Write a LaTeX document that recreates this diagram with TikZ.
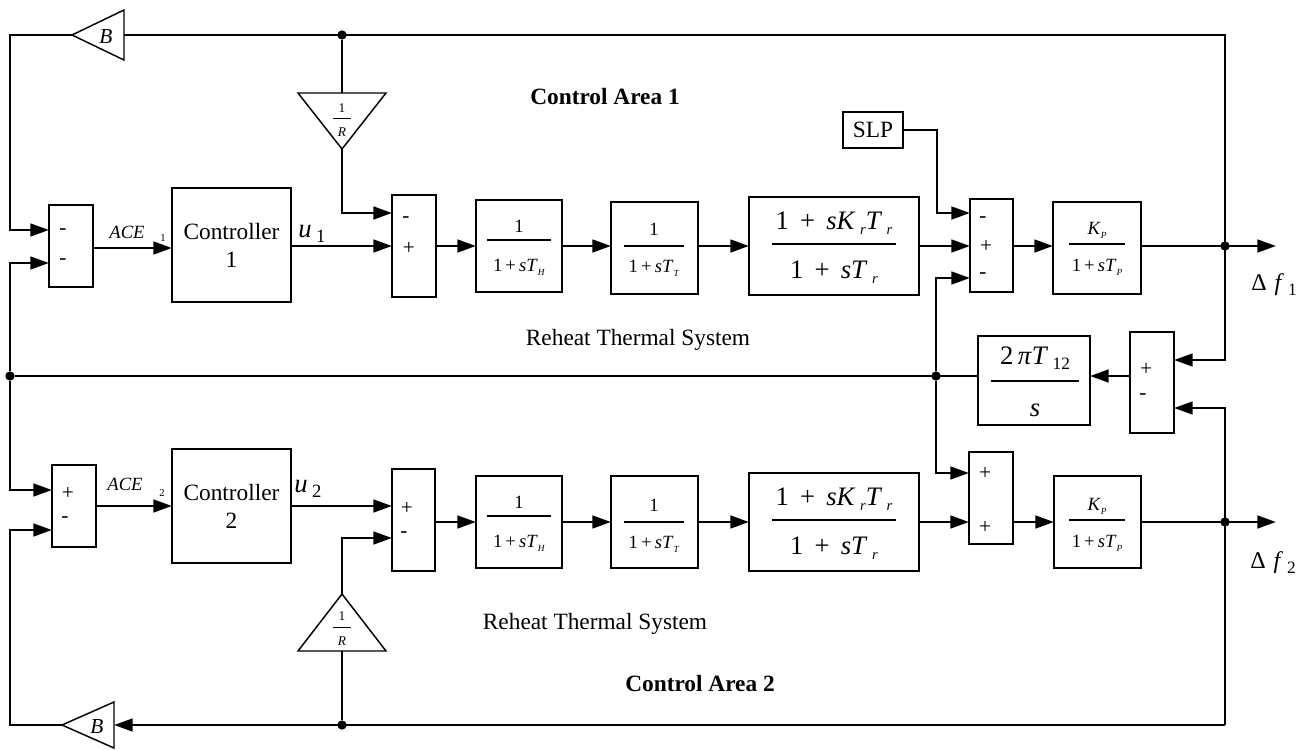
\documentclass[tikz,border=0pt]{standalone}
\usepackage{fontspec}
\setmainfont{Liberation Serif}
\usetikzlibrary{arrows.meta,fit,calc}
\newcommand\fs[1]{\fontsize{#1}{#1}\selectfont}
\newcommand\lowr[2]{\raisebox{-0.45ex}{\fs{#1}#2}}
\newcommand\fracat[8]{%
  \draw[line width=0.8pt] (#2-#4,#3) -- (#2+#4,#3);
  \node[lbl] (#1n) at (#2,#5) {#7};
  \node[lbl] (#1d) at (#2,#6) {#8};}
\begin{document}
\begin{tikzpicture}[x=0.75pt,y=-0.75pt,
  conn/.style={line width=2pt},
  arr/.style={conn,-{Triangle[length=14pt,width=9.5pt]}},
  blk/.style={draw,line width=0.9pt,inner sep=0pt,outer sep=0pt},
  sumb/.style={draw,line width=1.4pt,inner sep=0pt,outer sep=0pt},
  tri/.style={draw,line width=1.1pt,line join=miter},
  dot/.style={circle,fill,inner sep=0pt,minimum size=7pt},
  lbl/.style={inner sep=0pt},
  sgn/.style={inner sep=0pt,font=\fs{16}},
  txt/.style={inner sep=0pt,font=\fontsize{17.5}{21}\selectfont,align=center},
]
\useasboundingbox (0,0) rectangle (1308,749);

% ---------- blocks ----------
\node[blk,fit={(172,188) (291,302)}] (ctl1) {};
\node[blk,fit={(172,449) (291,563)}] (ctl2) {};
\node[blk,fit={(476,200) (562,292)}] (th1) {};
\node[blk,fit={(611,202) (698,294)}] (tt1) {};
\node[blk,fit={(749,197) (919,295)}] (r1) {};
\node[blk,fit={(1053,202) (1141,294)}] (kp1) {};
\node[blk,fit={(843,112) (903,148)}] (slp) {};
\node[blk,fit={(978,336) (1090,425)}] (t12) {};
\node[blk,fit={(476,476) (562,568)}] (th2) {};
\node[blk,fit={(611,476) (698,568)}] (tt2) {};
\node[blk,fit={(749,473) (919,571)}] (r2) {};
\node[blk,fit={(1054,476) (1141,568)}] (kp2) {};

% ---------- summing boxes ----------
\node[sumb,fit={(49,205) (93,287)}] (s1) {};
\node[sumb,fit={(392,195) (436,297)}] (s2) {};
\node[sumb,fit={(970,199) (1013,292)}] (s3) {};
\node[sumb,fit={(1130,332) (1174,433)}] (s4) {};
\node[sumb,fit={(969,452) (1013,544)}] (s5) {};
\node[sumb,fit={(52,465) (96,547)}] (s6) {};
\node[sumb,fit={(392,469) (435,571)}] (s7) {};

% signs
\node[sgn] (s1a) at (63,232) {-};
\node[sgn] (s1b) at (63,262) {-};
\node[sgn] (s2a) at (406,220) {-};
\node[sgn] (s2b) at (409,248) {+};
\node[sgn] (s3a) at (983,220) {-};
\node[sgn] (s3b) at (986,246) {+};
\node[sgn] (s3c) at (983,276) {-};
\node[sgn] (s4a) at (1146,369) {+};
\node[sgn] (s4b) at (1143,397) {-};
\node[sgn] (s5a) at (985,473) {+};
\node[sgn] (s5b) at (985,527) {+};
\node[sgn] (s6a) at (68,493) {+};
\node[sgn] (s6b) at (65,520) {-};
\node[sgn] (s7a) at (407,508) {+};
\node[sgn] (s7b) at (404,535) {-};

% ---------- triangles ----------
\draw[tri] (124,10) -- (124,60) -- (72,35) -- cycle;
\coordinate (b1in) at (124,35); \coordinate (b1out) at (72,35);
\node[lbl,font=\fs{16}\itshape] (b1t) at (106,37) {B};
\draw[tri] (114,702) -- (114,748) -- (62,725) -- cycle;
\coordinate (b2in) at (114,725); \coordinate (b2out) at (62,725);
\node[lbl,font=\fs{16}\itshape] (b2t) at (97,727) {B};

\draw[tri] (298,93) -- (386,93) -- (342,149) -- cycle;
\coordinate (r1top) at (342,93); \coordinate (r1apex) at (342,149);
\draw[line width=0.6pt] (333,118) -- (351,118);
\node[lbl,font=\fs{10}] (r1n) at (342,108) {1};
\node[lbl,font=\fs{10}\itshape] (r1d) at (342,132) {R};

\draw[tri] (298,651) -- (386,651) -- (342,594) -- cycle;
\coordinate (r2base) at (342,651); \coordinate (r2apex) at (342,594);
\draw[line width=0.6pt] (333,627) -- (351,627);
\node[lbl,font=\fs{10}] (r2n) at (342,616) {1};
\node[lbl,font=\fs{10}\itshape] (r2d) at (342,641) {R};

% ---------- junctions ----------
\coordinate (tl) at (10,35);
\coordinate (tr) at (1225,35);
\coordinate (bl) at (10,725);
\coordinate (br) at (1225,725);
\coordinate (slpc) at (937,213);
\coordinate (f1end) at (1276,246);
\coordinate (f2end) at (1276,522);
\node[dot] (jt) at (342,35) {};
\node[dot] (jl) at (10,376) {};
\node[dot] (jm) at (936,376) {};
\node[dot] (jf1) at (1225,246) {};
\node[dot] (jf2) at (1225,522) {};
\node[dot] (jb) at (342,725) {};

% ---------- connectors ----------
\draw[arr] (b1in) -- (tr) |- (s4.east |- 0,360);
\draw[arr] (b1out) -- (tl) |- (s1.west |- 0,230);
\draw[conn] (jt) -- (r1top);
\draw[arr] (r1apex) |- (s2.west |- 0,213);
\draw[arr] (s1.east |- 0,248) -- (ctl1.west |- 0,248);
\draw[arr] (ctl1.east |- 0,246) -- (s2.west |- 0,246);
\draw[arr] (s2.east |- 0,246) -- (th1.west |- 0,246);
\draw[arr] (th1.east |- 0,246) -- (tt1.west |- 0,246);
\draw[arr] (tt1.east |- 0,246) -- (r1.west |- 0,246);
\draw[arr] (r1.east |- 0,246) -- (s3.west |- 0,246);
\draw[arr] (s3.east |- 0,246) -- (kp1.west |- 0,246);
\draw[arr] (kp1.east |- 0,246) -- (f1end);
\draw[arr] (slp.east) -| (slpc) -- (s3.west |- slpc);
\draw[arr] (jm) |- (s3.west |- 0,278);
\draw[arr] (jm) |- (s5.west |- 0,473);
\draw[conn] (t12.west |- 0,376) -- (jl);
\draw[arr] (s4.west |- 0,376) -- (t12.east |- 0,376);
\draw[arr] (jl) |- (s1.west |- 0,263);
\draw[arr] (jl) |- (s6.west |- 0,490);
\draw[arr] (s6.east |- 0,506) -- (ctl2.west |- 0,506);
\draw[arr] (ctl2.east |- 0,506) -- (s7.west |- 0,506);
\draw[arr] (s7.east |- 0,522) -- (th2.west |- 0,522);
\draw[arr] (th2.east |- 0,522) -- (tt2.west |- 0,522);
\draw[arr] (tt2.east |- 0,522) -- (r2.west |- 0,522);
\draw[arr] (r2.east |- 0,522) -- (s5.west |- 0,522);
\draw[arr] (s5.east |- 0,522) -- (kp2.west |- 0,522);
\draw[arr] (kp2.east |- 0,522) -- (f2end);
\draw[arr] (br) |- (s4.east |- 0,408);
\draw[arr] (br) -- (b2in);
\draw[conn] (jb) -- (r2base);
\draw[arr] (r2apex) |- (s7.west |- 0,538);
\draw[arr] (b2out) -- (bl) |- (s6.west |- 0,530);

% ---------- block texts ----------
\node[txt] (c1t) at (ctl1.center) {Controller\\1};
\node[txt] (c2t) at (ctl2.center) {Controller\\2};
\node[lbl,font=\fs{17.5}] (slpt) at (slp.center) {SLP};

\fracat{th1f}{519}{240}{32}{226}{267}{\fs{14}1}{\fs{14}1\,+\,\textit{sT}\lowr{7}{\textit{H}}}
\fracat{tt1f}{654}{246}{30}{229}{268}{\fs{14}1}{\fs{14}1\,+\,\textit{sT}\lowr{7}{\textit{T}}}
\fracat{r1f}{834}{244}{62}{223}{272}{\fs{20}1 \,+\, \textit{sK}\,\lowr{11}{\textit{r}}\textit{T}\,\lowr{11}{\textit{r}}}{\fs{20}1 \,+\, \textit{sT}\,\lowr{11}{\textit{r}}}
\fracat{kp1f}{1097}{244}{28}{230}{267}{\fs{14}\textit{K}\lowr{7}{\textit{P}}}{\fs{14}1\,+\,\textit{sT}\lowr{7}{\textit{P}}}
\fracat{t12f}{1035}{381}{44}{358}{410}{\fs{20}2\,\textit{π}\textit{T}\,\lowr{13}{12}}{\fs{20}\textit{s}}
\fracat{th2f}{519}{516}{32}{502}{543}{\fs{14}1}{\fs{14}1\,+\,\textit{sT}\lowr{7}{\textit{H}}}
\fracat{tt2f}{654}{522}{30}{505}{544}{\fs{14}1}{\fs{14}1\,+\,\textit{sT}\lowr{7}{\textit{T}}}
\fracat{r2f}{834}{520}{62}{499}{548}{\fs{20}1 \,+\, \textit{sK}\,\lowr{11}{\textit{r}}\textit{T}\,\lowr{11}{\textit{r}}}{\fs{20}1 \,+\, \textit{sT}\,\lowr{11}{\textit{r}}}
\fracat{kp2f}{1097}{520}{28}{506}{543}{\fs{14}\textit{K}\lowr{7}{\textit{P}}}{\fs{14}1\,+\,\textit{sT}\lowr{7}{\textit{P}}}

% ---------- labels ----------
\node[lbl,font=\fs{14}\itshape] (ace1) at (127,232) {ACE};
\node[lbl,font=\fs{8}] (ace1s) at (163,238) {1};
\node[lbl,font=\fs{14}\itshape] (ace2) at (125,484) {ACE};
\node[lbl,font=\fs{8}] (ace2s) at (162,493) {2};
\node[lbl] (u1) at (312,234) {\fs{20}\textit{u}\,\lowr{14}{1}};
\node[lbl] (u2) at (308,489) {\fs{20}\textit{u}\,\lowr{14}{2}};
\node[lbl] (df1) at (1274,285) {\fs{18}Δ\,\,\textit{f}\,\lowr{13}{1}};
\node[lbl] (df2) at (1273,563) {\fs{18}Δ\,\,\textit{f}\,\lowr{13}{2}};
\node[txt] (rts1) at (638,340) {Reheat Thermal System};
\node[txt] (rts2) at (595,624) {Reheat Thermal System};
\node[txt,font=\fontsize{17.5}{21}\selectfont\bfseries] (ca1) at (605,97) {Control Area 1};
\node[txt,font=\fontsize{17.5}{21}\selectfont\bfseries] (ca2) at (700,684) {Control Area 2};
\end{tikzpicture}
\end{document}
